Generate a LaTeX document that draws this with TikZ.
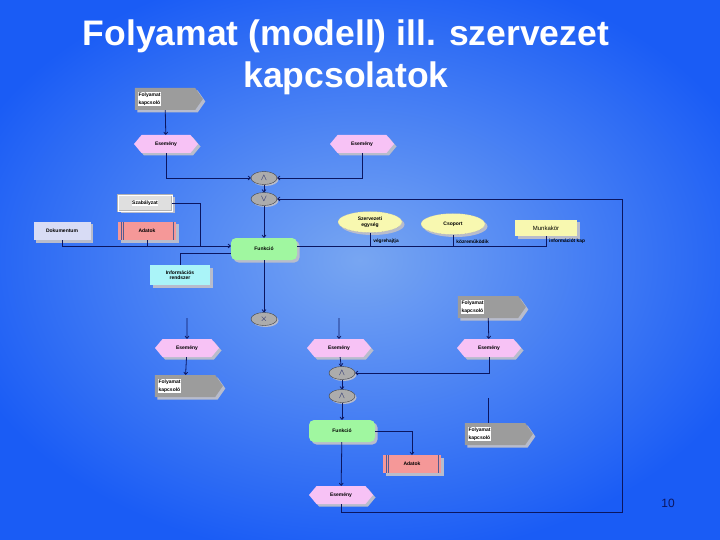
\documentclass[tikz,border=0pt]{standalone}
\usepackage{fontspec}
\setmainfont{Liberation Sans}
\usetikzlibrary{arrows.meta,positioning,shapes.geometric,shapes.symbols,shadows,calc}
\definecolor{bglight}{HTML}{78A6F2}
\definecolor{bgdark}{HTML}{1A5CF5}
\definecolor{vonal}{HTML}{0B1660}
\definecolor{espink}{HTML}{F7C2F5}
\definecolor{fuzold}{HTML}{A0F7A0}
\definecolor{adpiros}{HTML}{F59898}
\definecolor{szsarga}{HTML}{F8F8B0}
\definecolor{ircian}{HTML}{AAF4F8}
\definecolor{dklila}{HTML}{D8DCF5}
\definecolor{fkszurke}{HTML}{9C9C9C}
\definecolor{arnyek}{HTML}{B8BCCC}
\newcommand{\fehercimke}[1]{{\setlength{\fboxsep}{0.6pt}\colorbox{white}{\shortstack[l]{#1}}}}
\tikzset{
  alap/.style={draw=none, align=center, font=\fontsize{5}{5.5}\selectfont\bfseries,
               inner sep=1pt,
               drop shadow={shadow xshift=2.5pt, shadow yshift=-2.5pt, fill=arnyek, opacity=1}},
  esemeny/.style={alap, shape=signal, signal to=west and east, signal pointer angle=100,
                  fill=espink, minimum width=64pt, minimum height=18pt},
  funkcio/.style={alap, rectangle, rounded corners=5pt, fill=fuzold,
                  minimum width=66pt, minimum height=22pt},
  fkap/.style={alap, shape=signal, signal to=east, signal pointer angle=110, fill=fkszurke,
               minimum width=68pt, minimum height=22pt, text width=54pt, align=left},
  konn/.style={ellipse, draw=gray!50!black, fill=gray!65, minimum width=26pt,
               minimum height=13pt, inner sep=0pt, font=\small, text=vonal,
               drop shadow={shadow xshift=1.5pt, shadow yshift=-1.5pt, fill=arnyek, opacity=1}},
  adat/.style={alap, rectangle, fill=adpiros, minimum width=58pt, minimum height=18pt,
               path picture={
                 \draw[vonal!70, line width=0.5pt]
                   ([xshift=3pt]path picture bounding box.north west) -- ([xshift=3pt]path picture bounding box.south west)
                   ([xshift=5pt]path picture bounding box.north west) -- ([xshift=5pt]path picture bounding box.south west)
                   ([xshift=-3pt]path picture bounding box.north east) -- ([xshift=-3pt]path picture bounding box.south east);}},
  dok/.style={alap, rectangle, fill=dklila, minimum width=57pt, minimum height=18pt},
  szab/.style={alap, rectangle, fill=gray!25, draw=gray!60, double=white, double distance=0.8pt,
               minimum width=54pt, minimum height=16pt},
  infrsz/.style={alap, rectangle, fill=ircian, minimum width=60pt, minimum height=20pt},
  szerv/.style={alap, ellipse, fill=szsarga, draw=gray!70, densely dotted,
                minimum width=64pt, minimum height=21pt, inner sep=0pt},
  munk/.style={alap, rectangle, fill=szsarga, minimum width=62pt, minimum height=16pt,
               font=\fontsize{6}{7}\selectfont},
  kapcs/.style={font=\fontsize{4.8}{5}\selectfont\bfseries, text=black, inner sep=1pt,
                anchor=south west, yshift=1pt, xshift=2pt},
  ar/.style={-{To[length=3pt,width=4.5pt]}, draw=vonal, line width=0.8pt},
  vo/.style={draw=vonal, line width=0.8pt},
}

\begin{document}
\begin{tikzpicture}[x=1pt,y=1pt]

% ---------- background ----------
\useasboundingbox (0,0) rectangle (720,-540);
\fill[bgdark] (0,0) rectangle (720,-540);
\shade[inner color=bglight, outer color=bgdark] (-60,40) rectangle (780,-560);

% ---------- title ----------
\node[text=white, font=\fontsize{35.5}{42}\selectfont\bfseries, align=center] (cim) at (346,-57)
  {Folyamat (modell) ill. szervezet\\kapcsolatok};

% ---------- upper part ----------
\node[fkap] (fk1) at (165,-99) {\fehercimke{Folyamat\\kapcsoló}};
\node[esemeny] (ev1) at (166,-144) {Esemény};
\node[esemeny] (ev2) at (362,-144) {Esemény};
\node[konn] (c1) at (264,-178) {$\wedge$};
\node[konn] (c2) at (264,-199) {$\vee$};
\node[funkcio] (fn1) at (264,-249) {Funkció};

\draw[ar] (fk1) -- (ev1);
\draw[ar] (ev1.south) |- (c1.west);
\draw[ar] (ev2.south) |- (c1.east);
\draw[ar] (c1) -- (c2);
\draw[ar] (c2) -- (fn1);

% ---------- inputs of Funkció ----------
\node[szab] (sz) at (145,-203) {\fehercimke{Szabályzat}};
\node[dok] (dk) at (62,-231) {Dokumentum};
\node[adat] (ad1) at (147,-231) {Adatok};
\node[infrsz] (ir) at (180,-275) {Információs\\rendszer};

\coordinate (be1) at ([yshift=3pt]fn1.west);
\coordinate (be2) at ([yshift=-4pt]fn1.west);
\coordinate (szj) at (200,-246);
\draw[ar] (dk.south) |- (be1);
\draw[vo] (ad1.south) -- (ad1.south |- be1);
\draw[vo] (sz.east) -| (szj);
\draw[vo] (ir.north) |- (be2);

% ---------- organisation ----------
\node[szerv] (se) at (370,-222) {Szervezeti\\egység};
\node[szerv] (cs) at (453,-224) {Csoport};
\node[munk] (mk) at (546,-228) {Munkakör};

\coordinate (ki1) at ([yshift=3pt]fn1.east);
\draw[vo] (ki1) -| (mk.south);
\draw[vo] (se.south) -- (se.south |- ki1) node[kapcs,pos=1] {végrehajtja};
\draw[vo] (cs.south) -- (cs.south |- ki1) node[kapcs,pos=1] {közreműködik};
\path (mk.south) -- (mk.south |- ki1) node[kapcs,pos=1] {információt kap};

% ---------- lower part ----------
\node[konn] (c3) at (264,-319) {$\times$};
\node[esemeny] (ev3) at (187,-348) {Esemény};
\node[esemeny] (ev4) at (339,-348) {Esemény};
\node[esemeny] (ev5) at (489,-348) {Esemény};
\node[fkap] (fk2) at (185,-386) {\fehercimke{Folyamat\\kapcsoló}};
\node[fkap] (fk3) at (488,-307) {\fehercimke{Folyamat\\kapcsoló}};
\node[konn] (c4) at (342,-373) {$\wedge$};
\node[konn] (c5) at (342,-396) {$\wedge$};
\node[funkcio] (fn2) at (342,-431) {Funkció};
\node[fkap] (fk4) at (495,-434) {\fehercimke{Folyamat\\kapcsoló}};
\node[adat] (ad2) at (412,-464) {Adatok};
\node[esemeny] (ev6) at (341,-495) {Esemény};

\coordinate (f3) at (187,-318);
\coordinate (f4) at (339,-318);
\coordinate (f5) at (488,-398);
\coordinate (hurok) at (622,-512);

\draw[ar] (fn1) -- (c3);
\draw[ar] (f3) -- (ev3);
\draw[ar] (f4) -- (ev4);
\draw[ar] (ev3) -- (fk2);
\draw[ar] (fk3) -- (ev5);
\draw[ar] (ev4) -- (c4);
\draw[ar] (ev5.south) |- (c4.east);
\draw[ar] (c4) -- (c5);
\draw[ar] (c5) -- (fn2);
\draw[ar] (fn2.east) -| (ad2.north);
\draw[ar] (fn2) -- (ev6);
\draw[vo] (f5) -- (f5 |- fk4.north);
\draw[ar] (ev6.south) |- (hurok) |- (c2.east);

% ---------- page number ----------
\node[text=vonal, font=\fontsize{12}{14}\selectfont] (oldal) at (668,-503) {10};
\end{tikzpicture}
\end{document}
